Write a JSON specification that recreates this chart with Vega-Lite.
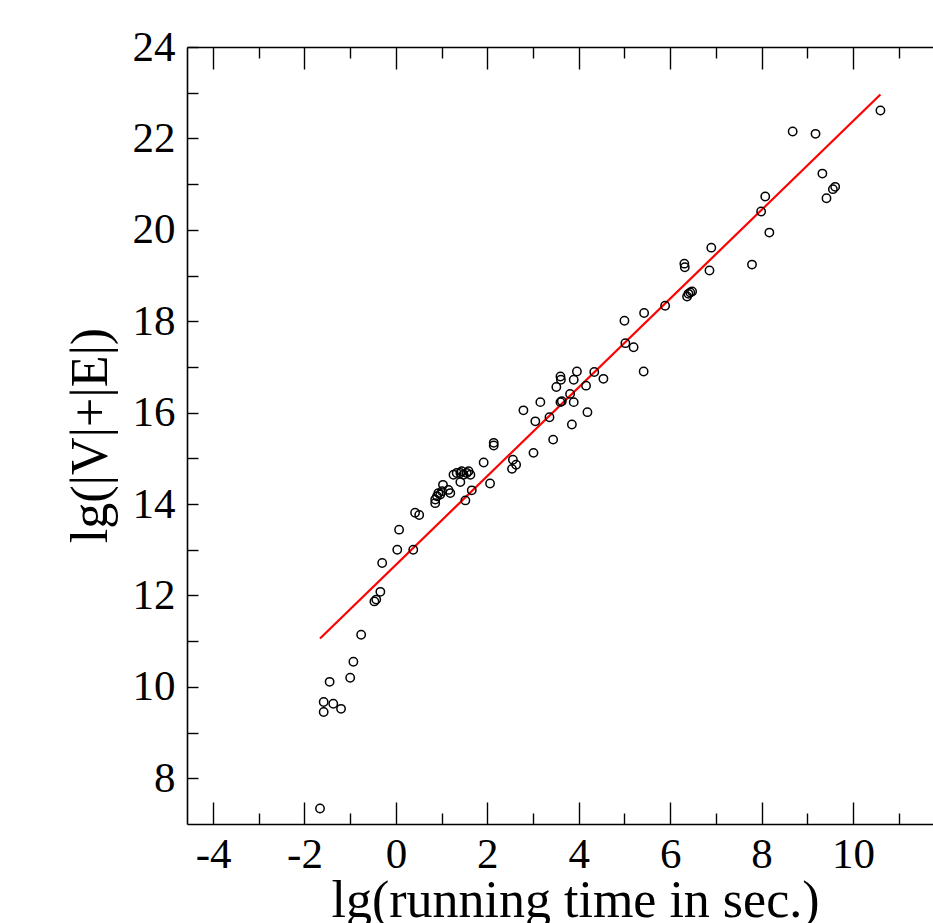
{
  "$schema": "https://vega.github.io/schema/vega-lite/v6.json",
  "width": 746,
  "height": 777,
  "autosize": {"type": "none"},
  "padding": {"left": 187, "top": 47, "right": 0, "bottom": 99},
  "background": "white",
  "view": {"stroke": null},
  "config": {
    "axis": {
      "labelFont": "Liberation Serif",
      "titleFont": "Liberation Serif",
      "labelColor": "black",
      "titleColor": "black",
      "domainColor": "black",
      "tickColor": "black",
      "grid": false,
      "labelFontSize": 43,
      "titleFontSize": 52,
      "titleFontWeight": "normal",
      "domainWidth": 1.6,
      "tickWidth": 1.4,
      "labelOverlap": false,
      "labelFlush": false,
      "labelBound": false
    }
  },
  "datasets": {
    "fit": [
      {"x": -1.66, "y": 11.06},
      {"x": 10.60, "y": 22.96}
    ],
    "pts": [
      {"x": -1.66, "y": 7.34},
      {"x": -1.58, "y": 9.67},
      {"x": -1.58, "y": 9.45},
      {"x": -1.45, "y": 10.11},
      {"x": -1.37, "y": 9.63},
      {"x": -1.20, "y": 9.52},
      {"x": -1.00, "y": 10.20},
      {"x": -0.93, "y": 10.55},
      {"x": -0.76, "y": 11.14},
      {"x": -0.47, "y": 11.87},
      {"x": -0.43, "y": 11.91},
      {"x": -0.34, "y": 12.08},
      {"x": -0.30, "y": 12.71},
      {"x": 0.03, "y": 13.00},
      {"x": 0.07, "y": 13.44},
      {"x": 0.38, "y": 13.00},
      {"x": 0.42, "y": 13.81},
      {"x": 0.51, "y": 13.76},
      {"x": 0.86, "y": 14.02},
      {"x": 0.86, "y": 14.10},
      {"x": 0.90, "y": 14.17},
      {"x": 0.93, "y": 14.24},
      {"x": 0.97, "y": 14.21},
      {"x": 1.01, "y": 14.28},
      {"x": 1.03, "y": 14.42},
      {"x": 1.15, "y": 14.31},
      {"x": 1.19, "y": 14.24},
      {"x": 1.26, "y": 14.64},
      {"x": 1.33, "y": 14.68},
      {"x": 1.41, "y": 14.68},
      {"x": 1.44, "y": 14.72},
      {"x": 1.48, "y": 14.64},
      {"x": 1.55, "y": 14.68},
      {"x": 1.59, "y": 14.72},
      {"x": 1.63, "y": 14.64},
      {"x": 1.41, "y": 14.48},
      {"x": 1.52, "y": 14.08},
      {"x": 1.66, "y": 14.30},
      {"x": 1.92, "y": 14.91},
      {"x": 2.06, "y": 14.45},
      {"x": 2.14, "y": 15.34},
      {"x": 2.14, "y": 15.28},
      {"x": 2.54, "y": 14.77},
      {"x": 2.56, "y": 14.97},
      {"x": 2.63, "y": 14.86},
      {"x": 2.79, "y": 16.05},
      {"x": 3.01, "y": 15.12},
      {"x": 3.05, "y": 15.81},
      {"x": 3.16, "y": 16.23},
      {"x": 3.36, "y": 15.90},
      {"x": 3.44, "y": 15.41},
      {"x": 3.51, "y": 16.56},
      {"x": 3.60, "y": 16.79},
      {"x": 3.61, "y": 16.72},
      {"x": 3.60, "y": 16.23},
      {"x": 3.63, "y": 16.25},
      {"x": 3.81, "y": 16.41},
      {"x": 3.85, "y": 15.74},
      {"x": 3.89, "y": 16.23},
      {"x": 3.89, "y": 16.72},
      {"x": 3.96, "y": 16.90},
      {"x": 4.16, "y": 16.59},
      {"x": 4.19, "y": 16.01},
      {"x": 4.34, "y": 16.89},
      {"x": 4.54, "y": 16.74},
      {"x": 5.00, "y": 18.01},
      {"x": 5.02, "y": 17.52},
      {"x": 5.20, "y": 17.43},
      {"x": 5.42, "y": 16.90},
      {"x": 5.43, "y": 18.18},
      {"x": 5.89, "y": 18.34},
      {"x": 6.31, "y": 19.26},
      {"x": 6.32, "y": 19.18},
      {"x": 6.37, "y": 18.54},
      {"x": 6.40, "y": 18.60},
      {"x": 6.44, "y": 18.63},
      {"x": 6.48, "y": 18.65},
      {"x": 6.86, "y": 19.11},
      {"x": 6.90, "y": 19.61},
      {"x": 7.79, "y": 19.24},
      {"x": 7.99, "y": 20.40},
      {"x": 8.08, "y": 20.73},
      {"x": 8.17, "y": 19.94},
      {"x": 8.68, "y": 22.15},
      {"x": 9.18, "y": 22.10},
      {"x": 9.33, "y": 21.23},
      {"x": 9.42, "y": 20.69},
      {"x": 9.56, "y": 20.89},
      {"x": 9.61, "y": 20.94},
      {"x": 10.60, "y": 22.61}
    ]
  },
  "layer": [
    {
      "data": {"name": "fit"},
      "mark": {"type": "line", "color": "#ff0000", "strokeWidth": 2.2},
      "encoding": {
        "x": {
          "field": "x",
          "type": "quantitative",
          "scale": {"domain": [-4.57, 11.75], "nice": false, "zero": false},
          "axis": {
            "orient": "top",
            "title": null,
            "labels": false,
            "values": [-4, -3, -2, -1, 0, 1, 2, 3, 4, 5, 6, 7, 8, 9, 10, 11],
            "tickSize": {"condition": {"test": "datum.value % 2 === 0", "value": -22}, "value": -11}
          }
        },
        "y": {
          "field": "y",
          "type": "quantitative",
          "scale": {"domain": [7, 24], "nice": false, "zero": false},
          "axis": {
            "orient": "left",
            "title": "lg(|V|+|E|)",
            "titleAngle": -90,
            "titleX": -81,
            "titleY": 388,
            "titleAlign": "center",
            "titleBaseline": "alphabetic",
            "values": [8, 9, 10, 11, 12, 13, 14, 15, 16, 17, 18, 19, 20, 21, 22, 23, 24],
            "labelExpr": "datum.value % 2 === 0 ? '' + datum.value : ''",
            "labelAlign": "right",
            "labelBaseline": "middle",
            "labelPadding": 23,
            "tickSize": -11
          }
        }
      }
    },
    {
      "data": {"name": "pts"},
      "mark": {"type": "point", "shape": "circle", "filled": false, "stroke": "black", "strokeWidth": 1.5, "size": 70, "opacity": 1},
      "encoding": {
        "x": {
          "field": "x",
          "type": "quantitative",
          "scale": {"domain": [-4.57, 11.75], "nice": false, "zero": false},
          "axis": {
            "orient": "bottom",
            "title": "lg(running time in sec.)",
            "titleX": 388,
            "titleY": 92,
            "titleAlign": "center",
            "titleBaseline": "alphabetic",
            "values": [-4, -3, -2, -1, 0, 1, 2, 3, 4, 5, 6, 7, 8, 9, 10, 11],
            "labelExpr": "datum.value % 2 === 0 ? '' + datum.value : ''",
            "labelBaseline": "alphabetic",
            "labelPadding": 65,
            "tickSize": {"condition": {"test": "datum.value % 2 === 0", "value": -22}, "value": -11}
          }
        },
        "y": {
          "field": "y",
          "type": "quantitative",
          "scale": {"domain": [7, 24], "nice": false, "zero": false},
          "axis": {
            "orient": "left",
            "title": "lg(|V|+|E|)",
            "titleAngle": -90,
            "titleX": -81,
            "titleY": 388,
            "titleAlign": "center",
            "titleBaseline": "alphabetic",
            "values": [8, 9, 10, 11, 12, 13, 14, 15, 16, 17, 18, 19, 20, 21, 22, 23, 24],
            "labelExpr": "datum.value % 2 === 0 ? '' + datum.value : ''",
            "labelAlign": "right",
            "labelBaseline": "middle",
            "labelPadding": 23,
            "tickSize": -11
          }
        }
      }
    }
  ]
}
